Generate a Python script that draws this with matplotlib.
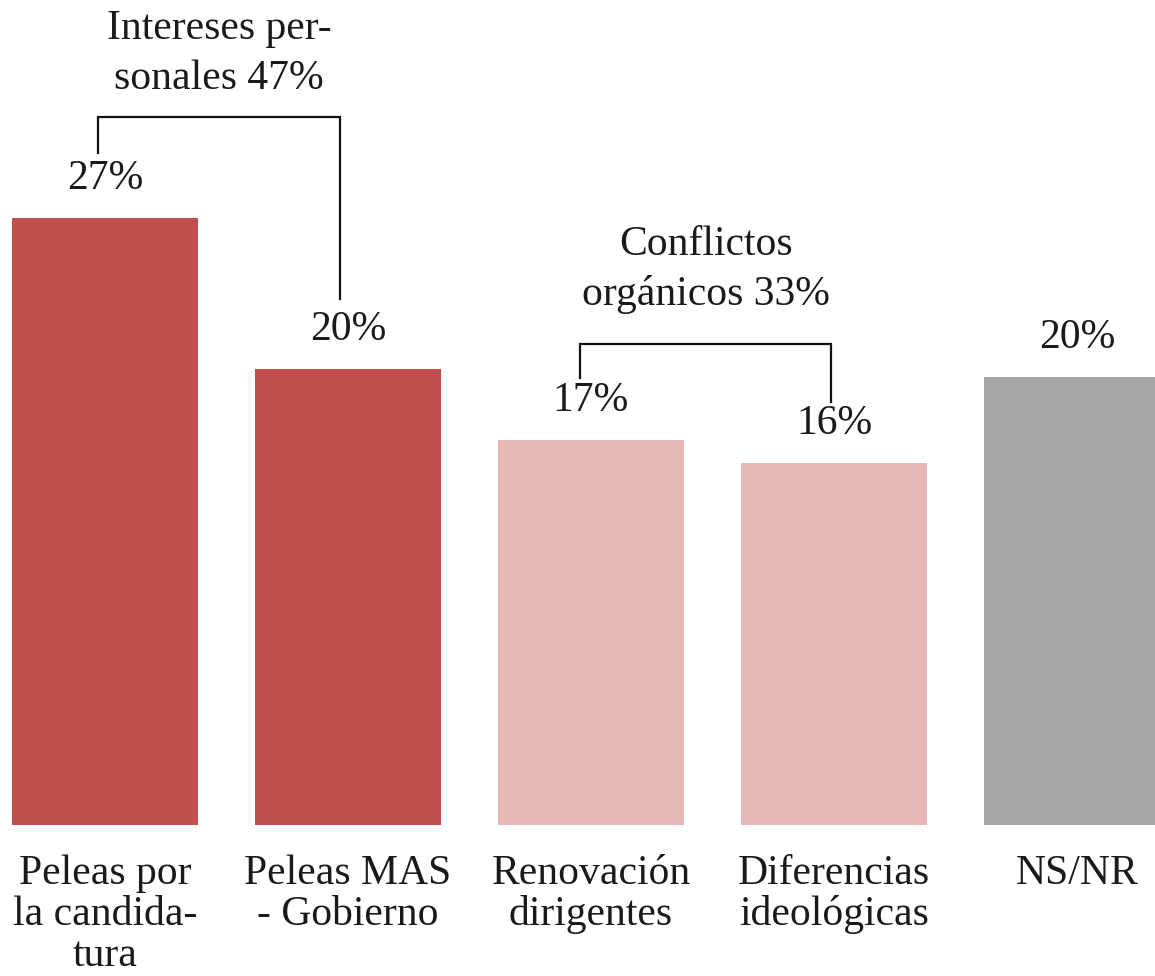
import matplotlib
matplotlib.use("Agg")
import matplotlib.pyplot as plt

plt.rcParams['font.family'] = ['Liberation Serif', 'DejaVu Serif']

categories = ["Peleas por\nla candida-\ntura", "Peleas MAS\n- Gobierno",
              "Renovación\ndirigentes", "Diferencias\nideológicas", "NS/NR"]
values = [26.98, 20.27, 17.1, 16.1, 19.9]
colors = ["#C0504D", "#C0504D", "#E6B8B7", "#E6B8B7", "#A6A6A6"]
group_labels = ["Intereses per-\nsonales 47%", "Conflictos\norgánicos 33%"]
groups = [(0, 1), (2, 3)]

W, H = 1155, 976
fig = plt.figure(figsize=(W / 100, H / 100), dpi=100)
base = 825
ppu = 22.5
ax = fig.add_axes([0, (H - base) / H, 1, base / H])
ax.set_ylim(0, base / ppu)
ax.set_xlim(-105 / 243, (W - 105) / 243)

x = list(range(len(values)))
ax.bar(x, values, width=0.765, color=colors)

txtc = "#1a1a1a"
fs = 30
for xi, v in zip(x, values):
    ax.text(xi, v + 1.75, f"{round(v)}%", ha="center", va="center",
            fontsize=fs, color=txtc)

# brackets
br = [(-0.03, 0.967, 2.9, 3.1, 4.5), (1.955, 2.988, 2.77, 2.7, 4.28)]
lab_off = [2.8, 3.3]
for (i, j), (xl, xr, dl, dr, dt), lab, lo in zip(groups, br, group_labels, lab_off):
    top = max(values[i], values[j]) + dt
    ax.plot([xl, xl, xr, xr], [values[i] + dl, top, top, values[j] + dr],
            color="#111111", lw=1.6, solid_joinstyle="miter", clip_on=False)
    ax.text((xl + xr) / 2, top + lo, lab, ha="center", va="center",
            fontsize=fs, color=txtc, linespacing=1.38)

ax.set_xticks(x)
ax.set_xticklabels(categories, fontsize=fs, color=txtc, linespacing=1.09)
ax.tick_params(axis="x", length=0, pad=21)
ax.set_yticks([])
for s in ax.spines.values():
    s.set_visible(False)

fig.savefig("out.png", dpi=100)
